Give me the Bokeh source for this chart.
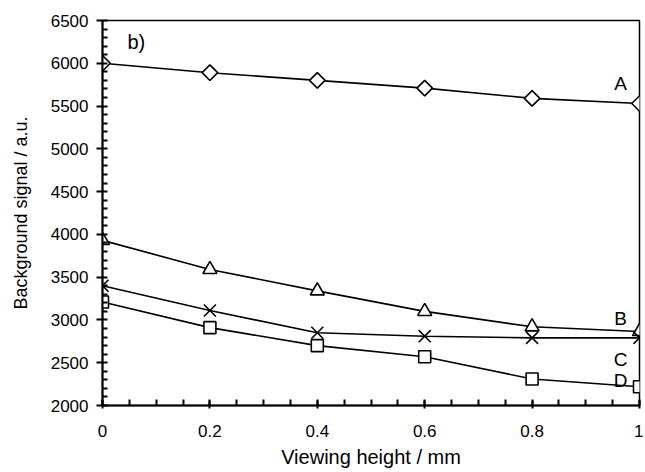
import math
from bokeh.plotting import figure
from bokeh.models import Range1d, FixedTicker, Label
from bokeh.embed import file_html
from bokeh.resources import INLINE

height_mm = [0.0, 0.2, 0.4, 0.6, 0.8, 1.0]
series_A = [6000, 5890, 5800, 5710, 5590, 5530]
series_B = [3930, 3590, 3340, 3100, 2920, 2865]
series_C = [3400, 3110, 2850, 2810, 2790, 2790]
series_D = [3210, 2910, 2700, 2570, 2310, 2220]
x_ticks = [0, 0.2, 0.4, 0.6, 0.8, 1.0]
x_tick_labels = ["0", "0.2", "0.4", "0.6", "0.8", "1"]
y_ticks = [2000, 2500, 3000, 3500, 4000, 4500, 5000, 5500, 6000, 6500]
curve_labels = ["A", "B", "C", "D"]
curve_label_y = [5765, 3014, 2536, 2291]

FONT = "Liberation Sans"

p = figure(width=643, height=470, output_backend="svg", toolbar_location=None,
           x_range=Range1d(0, 1), y_range=Range1d(2000, 6500),
           min_border_left=102, min_border_right=4, min_border_top=20, min_border_bottom=64)
p.grid.visible = False
p.outline_line_color = "black"
p.outline_line_width = 1.5
p.background_fill_color = "white"
p.border_fill_color = "white"

# X axis
xa = p.xaxis[0]
xa.ticker = FixedTicker(ticks=x_ticks, minor_ticks=[i * 0.05 for i in range(21)])
xa.major_label_overrides = {t: l for t, l in zip(x_ticks, x_tick_labels)}
xa.axis_label = "Viewing height / mm"
xa.axis_line_color = "black"
xa.axis_line_width = 2
xa.major_tick_line_color = "black"
xa.minor_tick_line_color = "black"
xa.major_tick_line_width = 2
xa.minor_tick_line_width = 2
xa.major_tick_in = 5
xa.major_tick_out = 3
xa.minor_tick_in = 6
xa.minor_tick_out = 0
xa.major_label_text_font = FONT
xa.major_label_text_font_size = "17px"
xa.major_label_text_color = "black"
xa.major_label_standoff = 16
xa.axis_label_text_font = FONT
xa.axis_label_text_font_size = "20px"
xa.axis_label_text_font_style = "normal"
xa.axis_label_text_color = "black"
xa.axis_label_standoff = 6

# Y axis
ya = p.yaxis[0]
ya.ticker = FixedTicker(ticks=y_ticks, minor_ticks=list(range(2000, 6501, 100)))
ya.axis_label = "Background signal / a.u."
ya.axis_line_color = "black"
ya.axis_line_width = 2
ya.major_tick_line_color = "black"
ya.minor_tick_line_color = "black"
ya.major_tick_line_width = 2
ya.minor_tick_line_width = 2
ya.major_tick_in = 0
ya.major_tick_out = 6
ya.minor_tick_in = 5
ya.minor_tick_out = 0
ya.major_label_text_font = FONT
ya.major_label_text_font_size = "17px"
ya.major_label_text_color = "black"
ya.major_label_standoff = 8
ya.axis_label_text_font = FONT
ya.axis_label_text_font_size = "18px"
ya.axis_label_text_font_style = "normal"
ya.axis_label_text_color = "black"
ya.axis_label_standoff = 17

LW = 1.6
for ys in [series_A, series_B, series_C, series_D]:
    p.line(height_mm, ys, line_color="black", line_width=LW)

p.scatter(height_mm, series_A, marker="square", size=11, angle=math.pi / 4,
          fill_color="white", line_color="black", line_width=LW)
p.scatter(height_mm, series_B, marker="triangle", size=14, fill_color="white",
          line_color="black", line_width=LW)
p.scatter(height_mm, series_C, marker="x", size=17, line_color="black", line_width=LW)
p.scatter(height_mm, series_D, marker="square", size=12, fill_color="white",
          line_color="black", line_width=LW)

for lab, ly in zip(curve_labels, curve_label_y):
    p.add_layout(Label(x=0.965, y=ly, text=lab, text_font=FONT, text_font_size="19px",
                       text_align="center", text_baseline="middle", text_color="black"))

p.add_layout(Label(x=0.063, y=6243, text="b)", text_font=FONT, text_font_size="20px",
                   text_align="center", text_baseline="middle", text_color="black"))

open("out.html", "w").write(file_html(p, INLINE))
